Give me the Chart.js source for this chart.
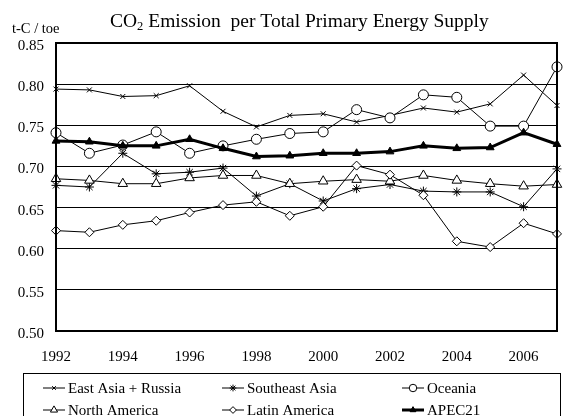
<!DOCTYPE html>
<html>
<head>
<meta charset="utf-8">
<script src="https://cdn.jsdelivr.net/npm/chart.js@4/dist/chart.umd.min.js"></script>
<style>
  html, body { margin: 0; padding: 0; background: #fff; }
  #chart { display: block; }
</style>
</head>
<body>
<canvas id="chart" width="574" height="416"></canvas>
<script>
// Data
const years = ['1992','1993','1994','1995','1996','1997','1998','1999','2000','2001','2002','2003','2004','2005','2006','2007'];
const eastAsiaRussia = [0.794,0.793,0.785,0.786,0.798,0.767,0.748,0.762,0.764,0.754,0.762,0.771,0.766,0.776,0.811,0.774];
const southeastAsia  = [0.677,0.675,0.716,0.691,0.693,0.698,0.664,0.679,0.658,0.673,0.678,0.670,0.669,0.669,0.651,0.697];
const oceania        = [0.741,0.716,0.726,0.742,0.716,0.725,0.733,0.740,0.742,0.769,0.759,0.787,0.784,0.749,0.749,0.821];
const northAmerica   = [0.685,0.683,0.679,0.679,0.686,0.689,0.689,0.679,0.682,0.684,0.682,0.689,0.683,0.679,0.676,0.678];
const latinAmerica   = [0.622,0.620,0.629,0.634,0.644,0.653,0.657,0.640,0.651,0.701,0.690,0.665,0.609,0.602,0.631,0.618];
const apec21         = [0.731,0.730,0.725,0.725,0.733,0.722,0.712,0.713,0.716,0.716,0.718,0.725,0.722,0.723,0.741,0.727];

const yMin = 0.50, yMax = 0.85, yStep = 0.05;
const SERIF = '"Liberation Serif", "Times New Roman", serif';

function series(label, data, style, fill, radius, width) {
  return {
    label: label, data: data,
    borderColor: '#000', borderWidth: width || 1,
    pointStyle: style, pointRadius: radius, pointHoverRadius: radius,
    pointBackgroundColor: fill, pointBorderColor: '#000', pointBorderWidth: 1,
    tension: 0, fill: false
  };
}

const datasets = [
  series('East Asia + Russia', eastAsiaRussia, 'crossRot', '#fff', 3.5),
  series('Southeast Asia', southeastAsia, 'star', '#fff', 4.5),
  series('Oceania', oceania, 'circle', '#fff', 5),
  series('North America', northAmerica, 'triangle', '#fff', 5.5),
  series('Latin America', latinAmerica, 'rectRot', '#fff', 4.5),
  series('APEC21', apec21, 'triangle', '#000', 4.5, 3)
];
const drawOrder = [6, 5, 4, 3, 2, 1];
datasets.forEach((d, i) => d.order = drawOrder[i]);

// title, unit label, frame and boxed legend
const decorPlugin = {
  id: 'decor',
  afterDraw(chart) {
    const ctx = chart.ctx;
    const a = chart.chartArea;
    ctx.save();

    // frame
    ctx.strokeStyle = '#000';
    ctx.lineWidth = 2;
    ctx.strokeRect(a.left, a.top, a.right - a.left, a.bottom - a.top);

    // title with subscript
    ctx.fillStyle = '#000';
    ctx.textBaseline = 'alphabetic';
    const big = '19.5px ' + SERIF, small = '12.5px ' + SERIF;
    const parts = [['CO', big, 0], ['2', small, 3], [' Emission  per Total Primary Energy Supply', big, 0]];
    let x = 110;
    parts.forEach(p => {
      ctx.font = p[1];
      ctx.fillText(p[0], x, 27 + p[2]);
      x += ctx.measureText(p[0]).width;
    });

    // unit
    ctx.font = '14.5px ' + SERIF;
    ctx.fillText('t-C / toe', 12, 33);

    // legend box
    ctx.lineWidth = 1;
    ctx.strokeRect(23.5, 373.5, 537, 60);
    const cols = [43, 222, 402];
    const rows = [388, 410];
    ctx.font = '15px ' + SERIF;
    ctx.textBaseline = 'middle';
    chart.data.datasets.forEach((d, i) => {
      const lx = cols[i % 3], ly = rows[Math.floor(i / 3)];
      ctx.strokeStyle = '#000';
      ctx.lineWidth = d.borderWidth;
      ctx.beginPath();
      ctx.moveTo(lx, ly);
      ctx.lineTo(lx + 22, ly);
      ctx.stroke();
      ctx.lineWidth = 1;
      ctx.fillStyle = d.pointBackgroundColor;
      Chart.helpers.drawPoint(ctx, {
        pointStyle: d.pointStyle, radius: d.pointRadius * 0.75, rotation: 0, borderWidth: 1
      }, lx + 11, ly);
      ctx.fillStyle = '#000';
      ctx.fillText(d.label, lx + 25, ly + 1);
    });
    ctx.restore();
  }
};

new Chart(document.getElementById('chart'), {
  type: 'line',
  data: { labels: years, datasets: datasets },
  options: {
    responsive: false,
    animation: false,
    events: [],
    layout: { padding: { top: 43, right: 2, left: 0, bottom: 0 } },
    plugins: { legend: { display: false }, tooltip: { enabled: false }, title: { display: false } },
    scales: {
      x: {
        type: 'category',
        offset: false,
        grid: { display: false, drawTicks: false },
        border: { display: true, color: '#000', width: 2 },
        ticks: {
          color: '#000', font: { family: SERIF, size: 15 },
          autoSkip: false, maxRotation: 0, padding: 17,
          callback: function (val, idx) { return idx % 2 === 0 ? this.getLabelForValue(val) : ''; }
        },
        afterFit(scale) { scale.height = 85; }
      },
      y: {
        min: yMin, max: yMax,
        grid: { color: '#000', lineWidth: 1, drawTicks: false },
        border: { display: true, color: '#000', width: 2 },
        ticks: {
          stepSize: yStep, color: '#000', font: { family: SERIF, size: 15 }, padding: 12,
          labelOffset: 3,
          callback: v => v.toFixed(2)
        },
        afterFit(scale) { scale.width = 56; }
      }
    }
  },
  plugins: [decorPlugin]
});
</script>
</body>
</html>
